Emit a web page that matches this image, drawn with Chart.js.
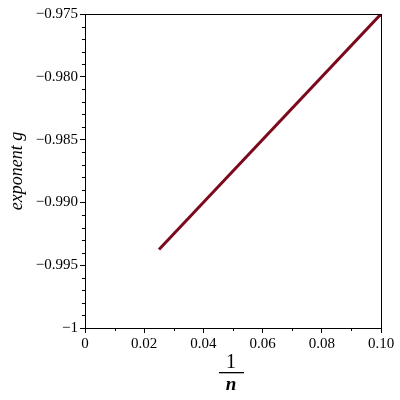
<!DOCTYPE html>
<html>
<head>
<meta charset="utf-8">
<script src="https://cdn.jsdelivr.net/npm/chart.js@4/dist/chart.umd.min.js"></script>
<style>
  html, body { margin: 0; padding: 0; background: #fff; }
  #wrap { width: 400px; height: 400px; }
</style>
</head>
<body>
<div id="wrap"><canvas id="c"></canvas></div>
<script>
// data
const invN = [0.025, 0.1];
const exponentG = [-0.99375, -0.975];
const xTicks = [0, 0.02, 0.04, 0.06, 0.08, 0.1];
const xTickLabels = ['0', '0.02', '0.04', '0.06', '0.08', '0.10'];
const yTicks = [-1, -0.995, -0.99, -0.985, -0.98, -0.975];
const yTickLabels = ['\u22121', '\u22120.995', '\u22120.990', '\u22120.985', '\u22120.980', '\u22120.975'];

const serif = '"Liberation Serif", "DejaVu Serif", serif';

// frame, minor ticks and the 1/n fraction label
const maplePlugin = {
  id: 'maple',
  afterDraw(chart) {
    const { ctx, chartArea: a, scales } = chart;
    ctx.save();
    ctx.strokeStyle = '#000';
    ctx.lineWidth = 1;
    ctx.strokeRect(a.left + 0.5, a.top + 0.5, a.right - a.left, a.bottom - a.top);

    ctx.beginPath();
    for (let v = 1; v < 25; v++) {
      if (v % 5 === 0) continue;
      const y = Math.round(scales.y.getPixelForValue(-1 + v * 0.001)) + 0.5;
      ctx.moveTo(a.left - 3, y);
      ctx.lineTo(a.left, y);
    }
    for (let v = 1; v < 10; v += 2) {
      const x = Math.round(scales.x.getPixelForValue(v * 0.01)) + 0.5;
      ctx.moveTo(x, a.bottom);
      ctx.lineTo(x, a.bottom + 3);
    }
    ctx.stroke();

    const cx = 231;
    ctx.fillStyle = '#000';
    ctx.textAlign = 'center';
    ctx.textBaseline = 'alphabetic';
    ctx.font = '20px ' + serif;
    ctx.fillText('1', cx, 368);
    ctx.fillRect(cx - 12, 372, 25, 1.3);
    ctx.font = 'italic bold 19px ' + serif;
    ctx.fillText('n', cx, 390);
    ctx.restore();
  }
};

new Chart(document.getElementById('c'), {
  type: 'line',
  data: {
    datasets: [{
      data: invN.map((x, i) => ({ x: x, y: exponentG[i] })),
      borderColor: '#7b0a1c',
      borderWidth: 3,
      pointRadius: 0,
      fill: false
    }]
  },
  options: {
    responsive: true,
    maintainAspectRatio: false,
    animation: false,
    layout: { padding: { top: 14, right: 19, left: 6, bottom: 0 } },
    plugins: { legend: { display: false }, tooltip: { enabled: false } },
    scales: {
      x: {
        type: 'linear',
        min: 0,
        max: 0.1,
        afterBuildTicks: s => { s.ticks = xTicks.map(v => ({ value: v })); },
        afterFit: s => { s.height = 72; },
        grid: { drawOnChartArea: false, drawTicks: true, tickLength: 5, color: '#000' },
        border: { display: true, color: '#000' },
        ticks: {
          color: '#000',
          font: { family: serif, size: 15 },
          padding: 2,
          maxRotation: 0,
          callback: (v, i) => xTickLabels[i]
        }
      },
      y: {
        type: 'linear',
        min: -1,
        max: -0.975,
        afterBuildTicks: s => { s.ticks = yTicks.map(v => ({ value: v })); },
        afterFit: s => { s.width = 79; },
        grid: { drawOnChartArea: false, drawTicks: true, tickLength: 5, color: '#000' },
        border: { display: true, color: '#000' },
        title: {
          display: true,
          text: 'exponent g',
          color: '#000',
          font: { family: serif, size: 18, style: 'italic' },
          padding: { top: 0, bottom: 0 }
        },
        ticks: {
          color: '#000',
          font: { family: serif, size: 15 },
          padding: 2,
          callback: (v, i) => yTickLabels[i]
        }
      }
    }
  },
  plugins: [maplePlugin]
});
</script>
</body>
</html>
